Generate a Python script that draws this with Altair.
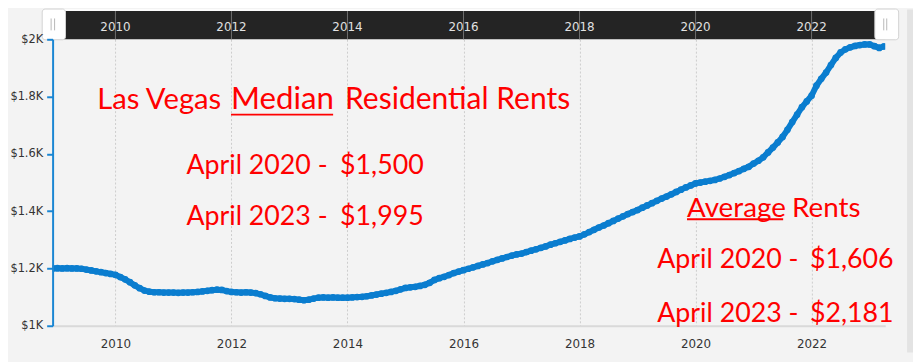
import altair as alt
import pandas as pd

# ---- data: monthly median rent (Las Vegas), Dec 2008 .. Apr 2023 ----
rent_2008 = [1200]  # December only
rent_2009 = [1201, 1200, 1201, 1200, 1200, 1199, 1196, 1193, 1190, 1187, 1184, 1181]
rent_2010 = [1178, 1170, 1162, 1152, 1141, 1131, 1123, 1119, 1117, 1117, 1116, 1116]
rent_2011 = [1116, 1115, 1116, 1116, 1117, 1118, 1120, 1122, 1124, 1126, 1125, 1121]
rent_2012 = [1118, 1117, 1116, 1117, 1116, 1114, 1110, 1104, 1099, 1096, 1095, 1094]
rent_2013 = [1094, 1093, 1091, 1089, 1091, 1095, 1098, 1099, 1098, 1099, 1098, 1098]
rent_2014 = [1098, 1099, 1100, 1101, 1103, 1106, 1109, 1112, 1115, 1118, 1122, 1127]
rent_2015 = [1132, 1134, 1136, 1139, 1143, 1150, 1160, 1166, 1171, 1177, 1184, 1189]
rent_2016 = [1194, 1199, 1204, 1209, 1214, 1219, 1225, 1230, 1235, 1240, 1245, 1249]
rent_2017 = [1252, 1257, 1262, 1267, 1272, 1277, 1283, 1288, 1293, 1298, 1303, 1308]
rent_2018 = [1312, 1319, 1327, 1335, 1343, 1350, 1358, 1366, 1374, 1382, 1390, 1397]
rent_2019 = [1404, 1412, 1420, 1428, 1436, 1444, 1451, 1459, 1467, 1475, 1483, 1490]
rent_2020 = [1497, 1500, 1503, 1506, 1509, 1514, 1520, 1526, 1533, 1540, 1548, 1555]
rent_2021 = [1566, 1576, 1588, 1605, 1622, 1640, 1659, 1684, 1711, 1737, 1763, 1783]
rent_2022 = [1803, 1838, 1862, 1884, 1910, 1935, 1954, 1965, 1972, 1977, 1980, 1982]
rent_2023 = [1982, 1976, 1970, 1975]  # Jan..Apr

years = list(range(2008, 2024))
series = [rent_2008, rent_2009, rent_2010, rent_2011, rent_2012, rent_2013,
          rent_2014, rent_2015, rent_2016, rent_2017, rent_2018, rent_2019,
          rent_2020, rent_2021, rent_2022, rent_2023]

tick_years = [2010, 2012, 2014, 2016, 2018, 2020, 2022]
y_ticks = [1000, 1200, 1400, 1600, 1800, 2000]

rows = []
for yr, vals in zip(years, series):
    first_month = 12 - len(vals) if yr == 2008 else 0
    for i, v in enumerate(vals):
        rows.append({"t": yr + (first_month + i) / 12.0, "rent": v})
df = pd.DataFrame(rows)
ticks_df = pd.DataFrame({"t": tick_years, "label": [str(y) for y in tick_years]})
one = pd.DataFrame({"k": [0]})

# ---- styling ----
W, H = 840, 289
BLUE = "#0a7dcf"
AXIS_BLUE = "#1a86d3"
RED = "#ff0000"
BG = "#f3f3f3"
TXT_FONT = "Lato"

x_scale = alt.Scale(domain=[2008.917, 2023.27], nice=False, zero=False)
y_scale = alt.Scale(domain=[1000, 2000], nice=False, zero=False)

x_axis = alt.Axis(title=None, values=tick_years, format="d", ticks=False,
                  labelPadding=13, labelFont="DejaVu Sans", labelFontSize=12,
                  labelColor="#333333", domainColor="#d9d9d9", domainWidth=2,
                  grid=True, gridColor="#cccccc", gridDash=[2, 2], gridWidth=1)
y_axis = alt.Axis(title=None, values=y_ticks,
                  labelExpr='"$" + (datum.value / 1000) + "K"',
                  tickSize=6, tickColor=AXIS_BLUE, tickWidth=2,
                  domainColor=AXIS_BLUE, domainWidth=2, grid=False,
                  labelPadding=4, labelFont="DejaVu Sans", labelFontSize=11.5,
                  labelColor="#333333", zindex=1)

line = alt.Chart(df).mark_line(color=BLUE, strokeWidth=6, clip=True).encode(
    x=alt.X("t:Q", scale=x_scale, axis=x_axis),
    y=alt.Y("rent:Q", scale=y_scale, axis=y_axis),
)
points = alt.Chart(df).mark_circle(color=BLUE, size=46, opacity=1, clip=True).encode(
    x=alt.X("t:Q", scale=x_scale),
    y=alt.Y("rent:Q", scale=y_scale),
)

# ---- navigator strip on top ----
nav_line = alt.Chart(one).mark_rule(color="#ffffff", strokeWidth=1.5).encode(
    x=alt.value(0), x2=alt.value(W), y=alt.value(-29.5))
nav_bg = alt.Chart(one).mark_rect(color="#242424").encode(
    x=alt.value(0), x2=alt.value(W), y=alt.value(-28.5), y2=alt.value(0))
nav_rules = alt.Chart(ticks_df).mark_rule(color="#6e6e6e", strokeWidth=1).encode(
    x=alt.X("t:Q", scale=x_scale), y=alt.value(-28.5), y2=alt.value(0))
nav_text = alt.Chart(ticks_df).mark_text(color="#e2e2e2", font="DejaVu Sans", fontSize=12,
                                         baseline="middle", align="center").encode(
    x=alt.X("t:Q", scale=x_scale), y=alt.value(-12), text="label:N")


def handle(x0, x1, g0, g1):
    box = alt.Chart(one).mark_rect(fill="#ffffff", stroke="#d2d2d2", strokeWidth=1,
                                   cornerRadius=3).encode(
        x=alt.value(x0), x2=alt.value(x1), y=alt.value(-30.5), y2=alt.value(0.5))
    g_a = alt.Chart(one).mark_rule(color="#b8b8b8", strokeWidth=1).encode(
        x=alt.value(g0), y=alt.value(-21), y2=alt.value(-9))
    g_b = alt.Chart(one).mark_rule(color="#b8b8b8", strokeWidth=1).encode(
        x=alt.value(g1), y=alt.value(-21), y2=alt.value(-9))
    return [box, g_a, g_b]


right_strip = alt.Chart(one).mark_rect(color="#e3e3e3").encode(
    x=alt.value(862), x2=alt.value(868), y=alt.value(-30), y2=alt.value(316))


def label(txt, x, y, size):
    return alt.Chart(one).mark_text(text=txt, color=RED, font=TXT_FONT, fontSize=size,
                                    align="left", baseline="alphabetic").encode(
        x=alt.value(x), y=alt.value(y))


def underline(x0, x1, y):
    return alt.Chart(one).mark_rule(color=RED, strokeWidth=2).encode(
        x=alt.value(x0), x2=alt.value(x1), y=alt.value(y))


annotations = [
    label("Las Vegas", 45, 70.5, 29.5),
    label("Median", 180, 70.5, 31.5),
    label("Residential Rents", 295, 70.5, 30.3),
    underline(180, 283, 76),
    label("April 2020 -", 135, 135.5, 27),
    label("$1,500", 290, 135.5, 27),
    label("April 2023 -", 135, 187, 27),
    label("$1,995", 290, 187, 27),
    label("Average", 640, 179.5, 28),
    label("Rents", 746, 179.5, 28),
    underline(640, 737, 181.5),
    label("April 2020 -", 610, 230.5, 27),
    label("$1,606", 764, 230.5, 27),
    label("April 2023 -", 610, 285.5, 27),
    label("$2,181", 764, 285.5, 27),
]

layers = [right_strip, nav_line, nav_bg, nav_rules, nav_text, line, points]
layers += handle(-10.5, 13, -1.5, 2)
layers += handle(829.5, 853.5, 838.5, 841.5)
layers += annotations

chart = alt.layer(*layers).properties(
    width=W, height=H,
    padding={"left": 45, "top": 30, "right": 28, "bottom": 35},
    autosize=alt.AutoSizeParams(type="none"),
    background=BG,
).configure_view(stroke=None)

chart.save("out.html", embed_options={"renderer": "svg", "actions": False})
